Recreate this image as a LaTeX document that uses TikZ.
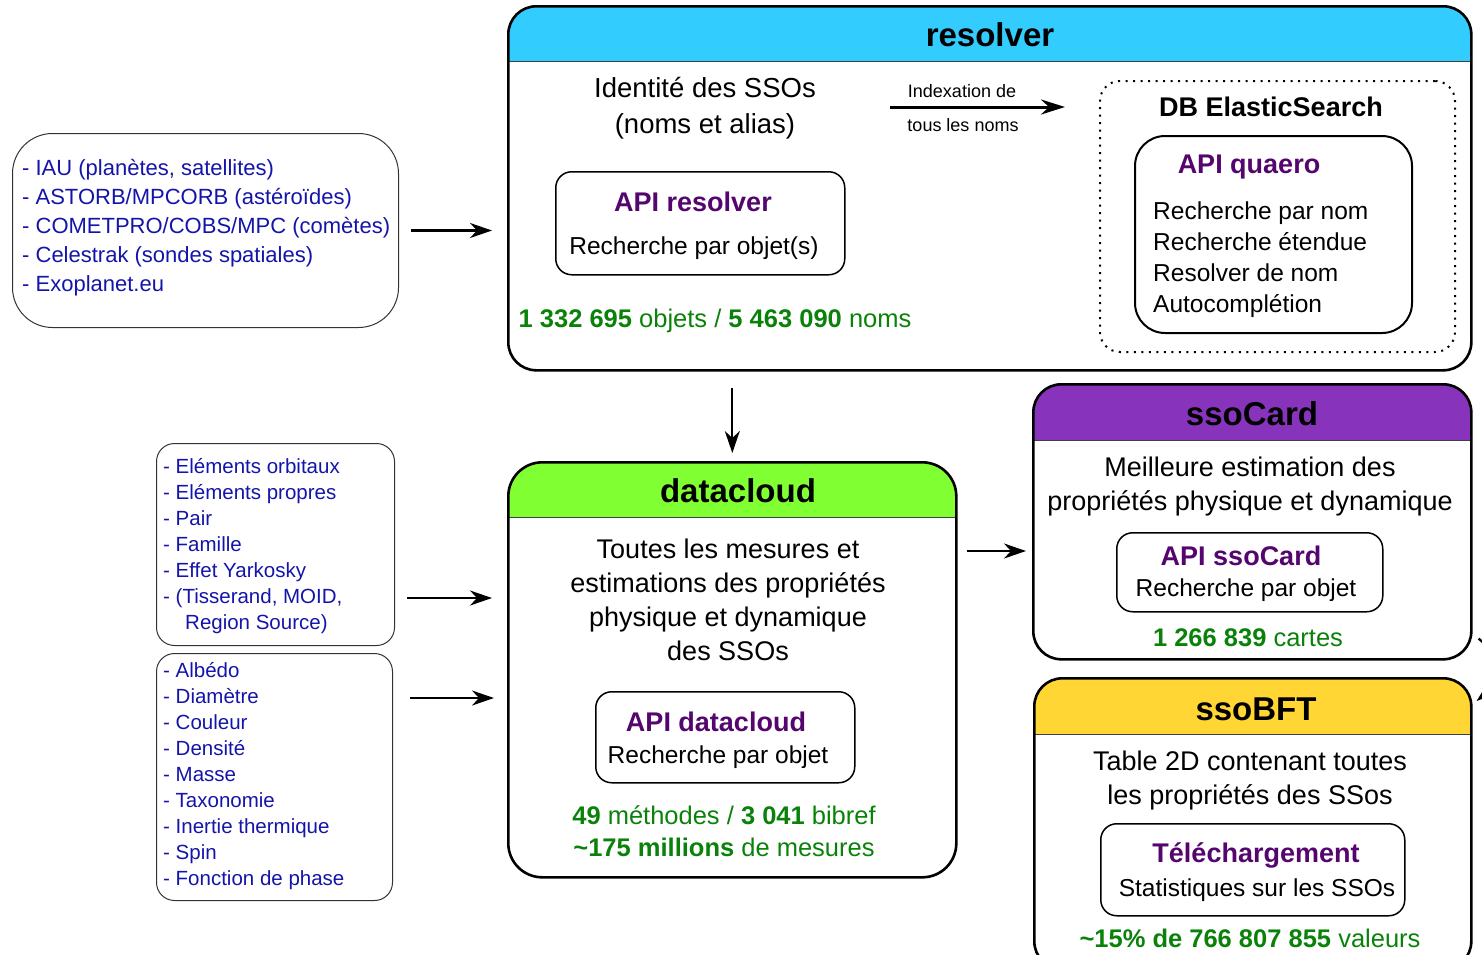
\documentclass[tikz,border=0pt]{standalone}
\usepackage{fontspec}
\setmainfont{Liberation Sans}
\usetikzlibrary{arrows.meta,calc}
\definecolor{srcblue}{RGB}{20,20,170}
\definecolor{apipurple}{RGB}{85,5,110}
\definecolor{numgreen}{RGB}{10,130,10}
\definecolor{hdcyan}{RGB}{51,204,255}
\definecolor{hdlime}{RGB}{128,255,51}
\definecolor{hdpurple}{RGB}{136,51,187}
\definecolor{hdyellow}{RGB}{255,214,51}
\begin{document}
\begin{tikzpicture}[x=1pt,y=-1pt,
  bigbox/.style n args={2}{draw, line width=2.6pt, rounded corners=28pt, anchor=north west, inner sep=0pt,
     path picture={\fill[#1, sharp corners] (path picture bounding box.north west) rectangle ([yshift=-#2]path picture bounding box.north east);
       \draw[line width=1pt, black!75, sharp corners] ([yshift=-#2]path picture bounding box.north west) -- ([yshift=-#2]path picture bounding box.north east);}},
  apibox/.style={draw, line width=1.5pt, rounded corners=16pt, anchor=north west, inner sep=0pt},
  srcbox/.style={draw, line width=1pt, black!80, rounded corners=#1, anchor=north west, inner sep=0pt},
  txt/.style={inner sep=0pt, align=center},
  ltxt/.style={inner sep=0pt, align=left, anchor=west},
  ftitle/.style={font=\fontsize{33}{38}\selectfont\bfseries},
  fbody/.style={font=\fontsize{27}{34}\selectfont},
  fapi/.style={font=\fontsize{27}{32}\selectfont\bfseries, text=apipurple},
  fsub/.style={font=\fontsize{24.5}{31}\selectfont},
  fnum/.style={font=\fontsize{25.5}{32}\selectfont, text=numgreen},
  fsrca/.style={font=\fontsize{22}{29}\selectfont, text=srcblue},
  fsrcb/.style={font=\fontsize{20.5}{26}\selectfont, text=srcblue},
  fsmall/.style={font=\fontsize{18}{22}\selectfont},
  arr/.style={line width=2.3pt, -{Stealth[length=22pt,width=15pt,inset=7pt]}}
]
\useasboundingbox (0,0) rectangle (1482,954);

% ---- source boxes
\node[srcbox=40pt, minimum width=386pt, minimum height=194pt] (src1) at (12,133) {};
\node[ltxt, fsrca] (src1t) at (22,228) {- IAU (planètes, satellites)\\- ASTORB/MPCORB (astéroïdes)\\- COMETPRO/COBS/MPC (comètes)\\- Celestrak (sondes spatiales)\\- Exoplanet.eu};

\node[srcbox=18pt, minimum width=238pt, minimum height=202pt] (src2) at (156,443) {};
\node[ltxt, fsrcb] (src2t) at (163,546) {- Eléments orbitaux\\- Eléments propres\\- Pair\\- Famille\\- Effet Yarkosky\\- (Tisserand, MOID,\\\hspace*{22pt}Region Source)};

\node[srcbox=18pt, minimum width=236pt, minimum height=247pt] (src3) at (156,653) {};
\node[ltxt, fsrcb] (src3t) at (163,776) {- Albédo\\- Diamètre\\- Couleur\\- Densité\\- Masse\\- Taxonomie\\- Inertie thermique\\- Spin\\- Fonction de phase};

% ---- resolver
\node[bigbox={hdcyan}{55pt}, minimum width=963pt, minimum height=364pt] (resolver) at (507,5) {};
\node[txt, ftitle] (resolvert) at (990,35) {resolver};
\node[txt, font=\fontsize{27.5}{36}\selectfont] (ident) at (705,108) {Identité des SSOs\\(noms et alias)};
\node[draw, line width=2pt, dash pattern=on 2pt off 5.5pt, rounded corners=20pt, anchor=north west, minimum width=355pt, minimum height=271pt, inner sep=0pt] (es) at (1099,80) {};
\node[txt, font=\fontsize{27}{32}\selectfont\bfseries] (est) at (1271,107) {DB ElasticSearch};
\coordinate (idxs) at (890,107);
\coordinate (idxe) at (1065,107);
\draw[line width=3pt, -{Stealth[length=24pt,width=15pt,inset=8pt]}] (idxs) -- (idxe);
\node[txt, fsmall] (idx1) at (962,91) {Indexation de};
\node[txt, fsmall] (idx2) at (963,125) {tous les noms};

\node[apibox, rounded corners=30pt, line width=2pt, minimum width=277pt, minimum height=197pt] (quaero) at (1134,135) {};
\node[txt, fapi] (quaerot) at (1249,167) {API quaero};
\node[ltxt, fsub] (quaerol) at (1153,259.5) {Recherche par nom\\Recherche étendue\\Resolver de nom\\Autocomplétion};

\node[apibox, minimum width=289pt, minimum height=103pt] (apires) at (555,171) {};
\node[txt, fapi] (apirest) at (693,202) {API resolver};
\node[txt, fsub] (apiress) at (694,248) {Recherche par objet(s)};
\node[txt, fnum] (resnum) at (715,321) {\textbf{1 332 695} objets / \textbf{5 463 090} noms};

% ---- datacloud
\node[bigbox={hdlime}{55pt}, rounded corners=34pt, minimum width=448pt, minimum height=415pt] (datacloud) at (507,461) {};
\node[txt, ftitle] (datacloudt) at (738,491) {datacloud};
\node[txt, fbody] (dcbody) at (728,600) {Toutes les mesures et\\estimations des propriétés\\physique et dynamique\\des SSOs};
\node[apibox, minimum width=259pt, minimum height=91pt] (apidc) at (595,691) {};
\node[txt, fapi] (apidct) at (716,722) {API datacloud};
\node[txt, fsub] (apidcs) at (718,757) {Recherche par objet};
\node[txt, fnum] (dcnum) at (724,831) {\textbf{49} méthodes / \textbf{3 041} bibref\\\textbf{\textasciitilde175 millions} de mesures};

% ---- ssoCard
\node[bigbox={hdpurple}{56pt}, minimum width=438pt, minimum height=275pt] (ssocard) at (1032,383) {};
\node[txt, ftitle] (ssocardt) at (1252,414) {ssoCard};
\node[txt, fbody] (scbody) at (1250,487) {Meilleure estimation des\\propriétés physique et dynamique};
\node[apibox, minimum width=266pt, minimum height=79pt] (apisc) at (1116,532) {};
\node[txt, fapi] (apisct) at (1241,556) {API ssoCard};
\node[txt, fsub] (apiscs) at (1246,590) {Recherche par objet};
\node[txt, fnum] (scnum) at (1248,638) {\textbf{1 266 839} cartes};

% ---- ssoBFT
\node[bigbox={hdyellow}{56pt}, minimum width=437pt, minimum height=291pt] (ssobft) at (1033,677) {};
\node[txt, ftitle] (ssobftt) at (1256,709) {ssoBFT};
\node[txt, fbody] (sbbody) at (1250,781) {Table 2D contenant toutes\\les propriétés des SSos};
\node[apibox, minimum width=304pt, minimum height=92pt] (dl) at (1100,823) {};
\node[txt, fapi] (dlt) at (1256,855) {Téléchargement};
\node[txt, fsub] (dls) at (1257,890) {Statistiques sur les SSOs};
\node[txt, fnum] (sbnum) at (1250,938) {\textbf{\textasciitilde15\% de 766 807 855} valeurs};

% ---- connectors
\coordinate (a2) at ($(src2.south east)+(0,-48)$);
\coordinate (a3) at ($(src3.north east)+(0,45)$);
\coordinate (a4) at ($(ssocard.north west)+(0,168)$);
\coordinate (a5) at ($(ssocard.south east)+(6,-22)$);
\coordinate (a6) at ($(ssobft.north east)+(4,24)$);
\draw[arr, shorten <=12pt, shorten >=15pt] (src1.east) -- (src1.east -| resolver.west);
\draw[arr, shorten <=16pt, shorten >=8pt] (resolver.south -| datacloud.north) -- (datacloud.north);
\draw[arr, shorten <=12pt, shorten >=15pt] (a2) -- (a2 -| datacloud.west);
\draw[arr, shorten <=17pt, shorten >=13pt] (a3) -- (a3 -| datacloud.west);
\draw[arr, shorten <=9pt, shorten >=6pt] (a4 -| datacloud.east) -- (a4);
\draw[arr] (a5) .. controls +(30,25) and +(30,-25) .. (a6);
\end{tikzpicture}
\end{document}
